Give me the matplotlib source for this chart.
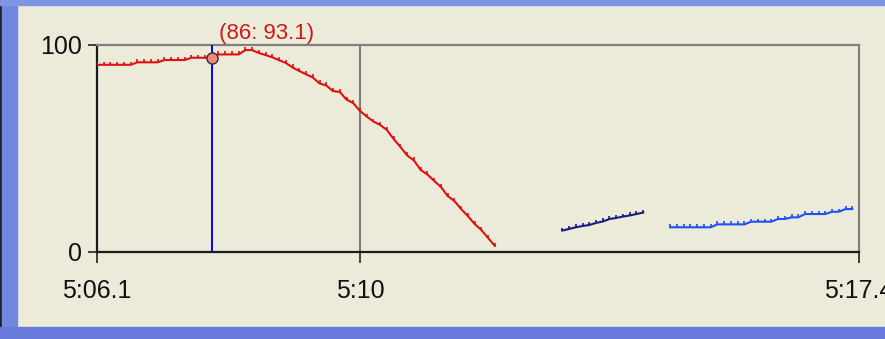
import matplotlib
matplotlib.use('Agg')
import matplotlib.pyplot as plt
from matplotlib.patches import Rectangle
import numpy as np

# ---------------- data ----------------
start_time = 306.1          # minutes (5:06.1)
end_time = 317.4            # minutes (5:17.4)
sample_interval = 0.1       # minutes between samples
x_ticks = [306.1, 310.0, 317.4]
x_tick_labels = ['5:06.1', '5:10', '5:17.4']
y_ticks = [0, 100]
y_tick_labels = ['0', '100']

red_start_index = 0
red_values = [90.2, 90.2, 90.2, 90.2, 90.2, 90.2, 91.4, 91.4, 91.4, 91.4,
              92.5, 92.5, 92.5, 92.5, 93.6, 93.6, 93.6, 93.6, 95.2, 95.2,
              95.2, 95.2, 97.3, 97.3, 95.9, 94.9, 93.8, 92.4, 91.1, 88.9,
              87.2, 85.6, 84.1, 81.2, 80.2, 77.5, 77.1, 73.4, 71.7, 67.9,
              65.2, 62.8, 61.1, 58.7, 54.3, 50.5, 46.4, 44.0, 39.4, 37.2,
              34.1, 31.2, 26.8, 24.4, 20.5, 17.1, 13.3, 10.4, 6.5, 2.7]

navy_start_index = 69
navy_values = [10.1, 10.9, 11.7, 12.3, 12.8, 13.8, 14.5, 15.7, 16.2, 16.9,
               17.4, 18.1, 18.8]

blue_start_index = 85
blue_values = [11.7, 11.7, 11.7, 11.7, 11.7, 11.7, 11.7, 13.1, 13.1, 13.1,
               13.1, 13.1, 14.4, 14.4, 14.4, 14.4, 15.7, 15.7, 16.5, 16.5,
               18.1, 18.1, 18.1, 18.1, 19.2, 19.2, 20.5, 20.5]

cursor_index = 17
cursor_label_index = 86
cursor_label_value = 93.1

# ---------------- style ----------------
BG = '#ECEBDA'
RED = '#DD1111'
NAVY = '#1A1A80'
BLUE = '#1E50F5'
CURSOR = '#0000FF'
GRID = '#808080'

plt.rcParams['font.family'] = ['Liberation Sans', 'DejaVu Sans']
TICK_FS = 18
LABEL_FS = 16

W, H = 885, 339
fig = plt.figure(figsize=(W / 100, H / 100), dpi=100, facecolor=BG)
ax = fig.add_axes([97 / W, 1 - 251.5 / H, (859 - 97) / W, (251.5 - 44.5) / H])
ax.set_facecolor(BG)

def times(start_index, n):
    return start_time + sample_interval * (start_index + np.arange(n))

TICKUP = 2
for vals, st, col in [(red_values, red_start_index, RED),
                      (navy_values, navy_start_index, NAVY),
                      (blue_values, blue_start_index, BLUE)]:
    t = times(st, len(vals))
    ax.plot(t, vals, color=col, lw=1.5, zorder=3)
    ax.plot(t, vals, ls='none', marker=TICKUP, ms=2.0, mew=1.2, color=col,
            zorder=3)

# grid line at 5:10
ax.axvline(x_ticks[1], color=GRID, lw=1.6, zorder=1)

# cursor
cursor_t = times(red_start_index, len(red_values))[cursor_index]
cursor_v = red_values[cursor_index - red_start_index]
ax.axvline(cursor_t, color=CURSOR, lw=1.4, zorder=4)
ax.plot([cursor_t], [cursor_v], marker='o', ms=8, mfc='#F08A80', mec='#3A2A2A',
        mew=1.0, zorder=5, clip_on=False)
ax.annotate('(%d: %.1f)' % (cursor_label_index, cursor_label_value),
            xy=(cursor_t, cursor_v), xytext=(39.5, 13.5), textcoords='offset points',
            ha='center', va='baseline', color='#D01818', fontsize=LABEL_FS,
            annotation_clip=False)

ax.set_xlim(start_time, end_time)
ax.set_ylim(0, 100)
ax.set_xticks(x_ticks)
ax.set_xticklabels(x_tick_labels)
ax.set_yticks(y_ticks)
ax.set_yticklabels(y_tick_labels)
ax.tick_params(axis='x', direction='out', length=8, width=1.1, pad=12,
               labelsize=TICK_FS, colors='#111111')
ax.tick_params(axis='y', direction='out', length=6.5, width=1.1, pad=4,
               labelsize=TICK_FS, colors='#111111')

for s in ['left', 'bottom']:
    ax.spines[s].set_color('#1A1A1A')
    ax.spines[s].set_linewidth(1.6)
for s in ['top', 'right']:
    ax.spines[s].set_color(GRID)
    ax.spines[s].set_linewidth(1.6)

# window frame (XP style border)
fig.add_artist(Rectangle((0, 0), 2 / W, 1, transform=fig.transFigure,
                         color='#202030', zorder=10))
fig.add_artist(Rectangle((2 / W, 0), 15 / W, 1, transform=fig.transFigure,
                         color='#7088E0', zorder=10))
fig.add_artist(Rectangle((0, 1 - 5 / H), 1, 5 / H, transform=fig.transFigure,
                         color='#7C96E4', zorder=10))
fig.add_artist(Rectangle((0, 0), 1, 12 / H, transform=fig.transFigure,
                         color='#6A7ADC', zorder=10))

fig.savefig('out.png', dpi=100, facecolor=BG)
